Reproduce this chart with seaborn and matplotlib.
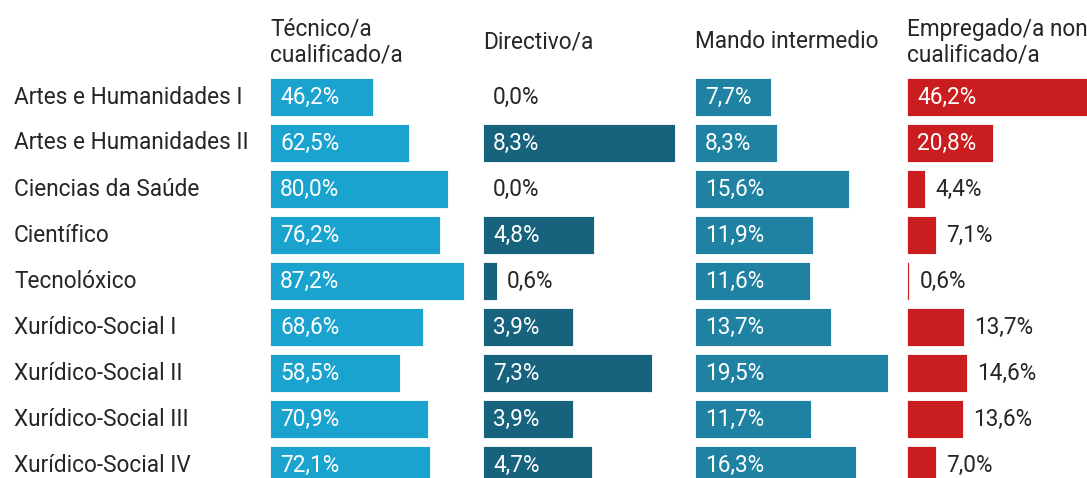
import matplotlib
matplotlib.use("Agg")
import matplotlib.pyplot as plt
import seaborn as sns
import pandas as pd

categories = ["Artes e Humanidades I", "Artes e Humanidades II", "Ciencias da Saúde",
              "Científico", "Tecnolóxico", "Xurídico-Social I", "Xurídico-Social II",
              "Xurídico-Social III", "Xurídico-Social IV"]
panel_titles = ["Técnico/a\ncualificado/a", "Directivo/a", "Mando intermedio",
                "Empregado/a non\ncualificado/a"]
tecnico = [46.2, 62.5, 80.0, 76.2, 87.2, 68.6, 58.5, 70.9, 72.1]
directivo = [0.0, 8.3, 0.0, 4.8, 0.6, 3.9, 7.3, 3.9, 4.7]
mando = [7.7, 8.3, 15.6, 11.9, 11.6, 13.7, 19.5, 11.7, 16.3]
empregado = [46.2, 20.8, 4.4, 7.1, 0.6, 13.7, 14.6, 13.6, 7.0]
series = [tecnico, directivo, mando, empregado]
colors = ["#1ba3cf", "#17627c", "#1f82a2", "#c91d1f"]

sns.set_theme(style="white")
plt.rcParams['font.family'] = ['Roboto', 'DejaVu Sans']

W, H = 1087, 478
fig = plt.figure(figsize=(W / 100, H / 100), dpi=100)

lefts = [270, 483, 695, 907]
max_px = [194, 192, 193, 191]
panel_w = 205
top_px, bot_px = 74, 488
txt = "#262626"
FS = 16.3

for i, (vals, col) in enumerate(zip(series, colors)):
    ax = fig.add_axes([lefts[i] / W, (H - bot_px) / H, panel_w / W, (bot_px - top_px) / H])
    df = pd.DataFrame({"cat": categories, "val": vals})
    sns.barplot(data=df, x="val", y="cat", ax=ax, color=col, width=0.83,
                saturation=1, edgecolor="#ffffff", linewidth=0.6, orient="h")
    xmax = max(vals) * panel_w / max_px[i]
    ax.set_xlim(0, xmax)
    ax.set_ylim(8.5, -0.5)
    px_per = panel_w / xmax
    for j, v in enumerate(vals):
        lab = f"{v:.1f}%".replace(".", ",")
        if v * px_per >= 75:
            ax.text(10 / px_per, j, lab, color="white", va="center", ha="left", fontsize=FS)
        else:
            ax.text(v + 10 / px_per, j, lab, color=txt, va="center", ha="left", fontsize=FS)
    ax.set_xlabel("")
    ax.set_ylabel("")
    ax.set_xticks([])
    if i == 0:
        ax.set_yticks(range(len(categories)))
        ax.set_yticklabels([])
    else:
        ax.set_yticks([])
    for s in ax.spines.values():
        s.set_visible(False)
    fig.text(lefts[i] / W, 1 - 42 / H, panel_titles[i], ha="left", va="center",
             fontsize=FS, color=txt, linespacing=1.12)

for j, c in enumerate(categories):
    fig.text(14 / W, 1 - (97 + 46 * j) / H, c, ha="left", va="center", fontsize=FS, color=txt)

fig.savefig("out.png", dpi=100)
